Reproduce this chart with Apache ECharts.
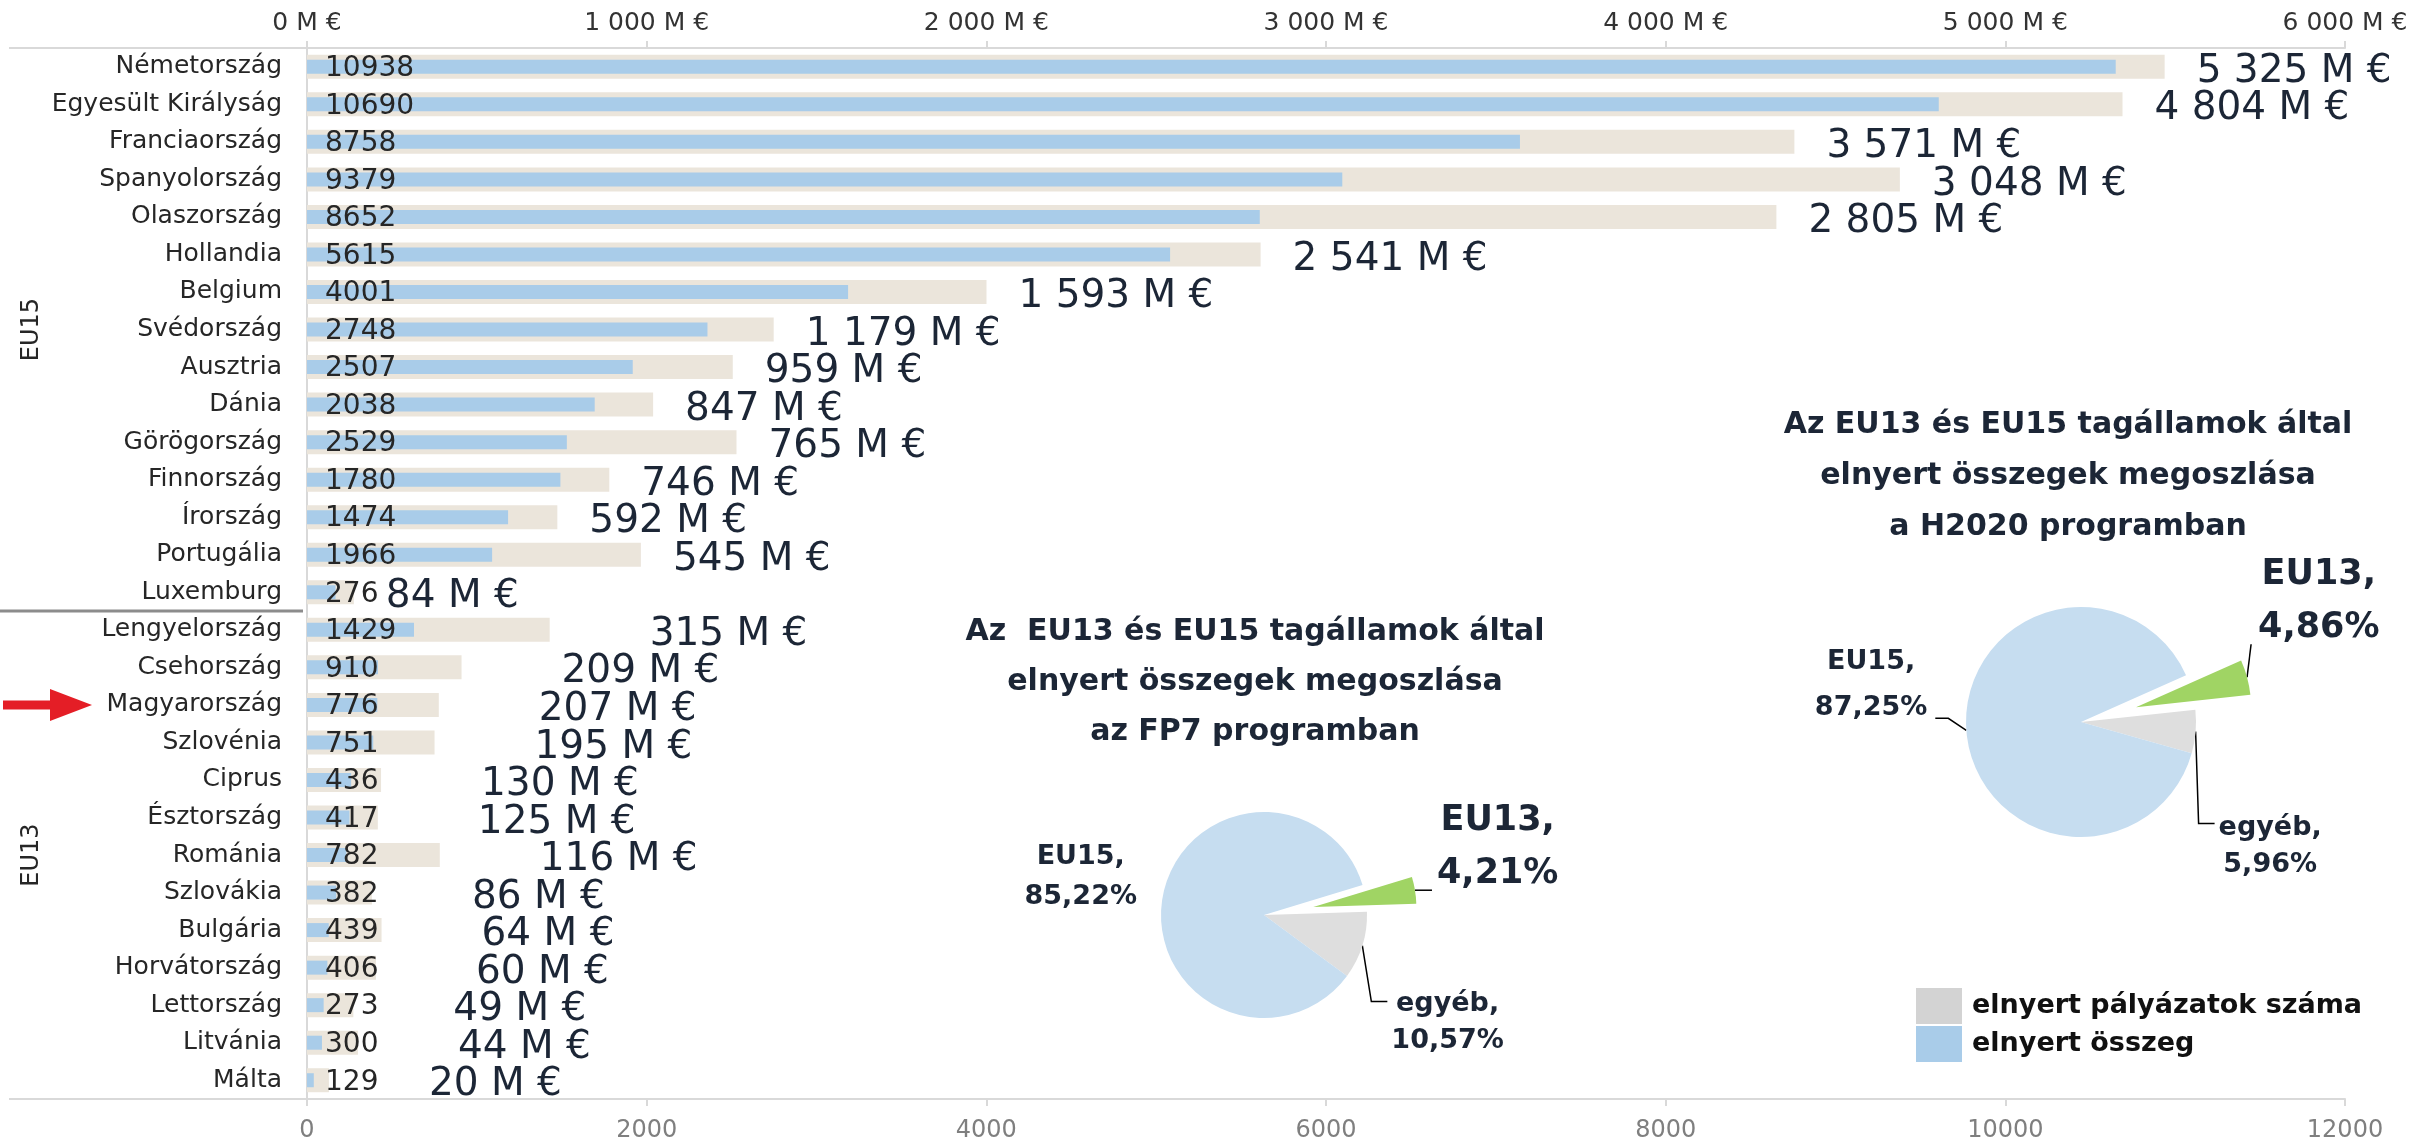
<!DOCTYPE html>
<html>
<head>
<meta charset="utf-8">
<script src="https://cdn.jsdelivr.net/npm/echarts@6/dist/echarts.min.js"></script>
<style>
html,body{margin:0;padding:0;background:#ffffff;}
#c{width:2411px;height:1147px;}
</style>
</head>
<body>
<div id="c"></div>
<script>
// ---------------- DATA ----------------
const countries = ['Németország','Egyesült Királyság','Franciaország','Spanyolország','Olaszország','Hollandia','Belgium','Svédország','Ausztria','Dánia','Görögország','Finnország','Írország','Portugália','Luxemburg','Lengyelország','Csehország','Magyarország','Szlovénia','Ciprus','Észtország','Románia','Szlovákia','Bulgária','Horvátország','Lettország','Litvánia','Málta'];
const groupNames = ['EU15','EU13'];
const groupSizes = [15, 13];
const wonProjects = [10938,10690,8758,9379,8652,5615,4001,2748,2507,2038,2529,1780,1474,1966,276,1429,910,776,751,436,417,782,382,439,406,273,300,129];
const wonAmount = [5325,4804,3571,3048,2805,2541,1593,1179,959,847,765,746,592,545,84,315,209,207,195,130,125,116,86,64,60,49,44,20];
const amountAxisTicks = [0,1000,2000,3000,4000,5000,6000];
const countAxisTicks = [0,2000,4000,6000,8000,10000,12000];
const pieNames = ['EU13','egyéb','EU15'];
const fp7Shares = [4.21,10.57,85.22];
const h2020Shares = [4.86,5.96,87.25];
const highlighted = 'Magyarország';
const seriesNames = ['elnyert pályázatok száma','elnyert összeg'];

// ---------------- STYLE ----------------
const FONT = '"DejaVu Sans", "Open Sans", sans-serif';
const GRID = {left:307, right:66, top:48, bottom:48};
const C = {
  beige:'#ebe5db', blue:'#a9cce9', axis:'#d9d9d9', text:'#262626', navy:'#1c2636',
  pieBlue:'#c6ddf0', pieGray:'#dedede', pieGreen:'#a0d464', legendGray:'#d3d3d3'
};

function thousands(n){ return String(n).replace(/\B(?=(\d{3})+(?!\d))/g, ' '); }
function amountText(n){ return thousands(n) + ' M €'; }
function pctText(v){ return v.toFixed(2).replace('.', ',') + '%'; }

const chart = echarts.init(document.getElementById('c'), null, {renderer:'canvas'});

// bars
const beigeData = wonProjects.map((v,i) => ({
  value: v,
  label: {distance: i < groupSizes[0] ? 32 : 100}
}));

// pies: main pie + exploded EU13 slice drawn as a second pie with shifted centre
function pieSeries(shares, center, radius, startAngle, explode, layouts, labelStyles, lineShow){
  const total = shares.reduce((a,b)=>a+b,0);
  const spans = shares.map(v => v/total*360);
  const starts = spans.map((s,i) => startAngle - spans.slice(0,i).reduce((a,b)=>a+b,0));
  const mids = spans.map((s,i) => (starts[i] - s/2) * Math.PI/180);
  const green = [center[0] + explode*Math.cos(mids[0]), center[1] - explode*Math.sin(mids[0])];
  const anchors = mids.map((m,i) => {
    const c = i === 0 ? green : center;
    return [c[0] + radius*Math.cos(m), c[1] - radius*Math.sin(m)];
  });
  const geom = {cx:center[0], cy:center[1], r:radius};
  const transparent = {color:'rgba(0,0,0,0)'};
  const colors = [C.pieGreen, C.pieGray, C.pieBlue];
  const layoutFn = p => {
    try {
      const f = layouts[p.dataIndex];
      return f ? f(p, anchors[p.dataIndex], geom) : {};
    } catch (e) { return {}; }
  };
  const base = {
    type:'pie', radius: radius, startAngle: startAngle, clockwise: true,
    avoidLabelOverlap: false, silent: true, animation: false,
    emphasis: {disabled: true},
    label: {show:true, position:'outside', fontFamily:FONT, fontWeight:'bold', color:C.navy,
            formatter: p => p.name + ',\n' + pctText(p.value)},
    labelLine: {show:true, length:10, length2:10, lineStyle:{color:'#000', width:1.5}},
    labelLayout: layoutFn
  };
  const main = Object.assign({}, base, {
    center: center,
    data: shares.map((v,i) => i === 0
      ? {name:pieNames[i], value:v, itemStyle:transparent, label:{show:false}, labelLine:{show:false}}
      : {name:pieNames[i], value:v, itemStyle:{color:colors[i]}, label:labelStyles[i], labelLine:{show:lineShow[i]}})
  });
  const exploded = Object.assign({}, base, {
    center: green,
    data: shares.map((v,i) => i === 0
      ? {name:pieNames[i], value:v, itemStyle:{color:colors[0]}, label:labelStyles[0], labelLine:{show:lineShow[0]}}
      : {name:pieNames[i], value:v, itemStyle:transparent, label:{show:false}, labelLine:{show:false}})
  });
  return [main, exploded];
}

function w(p){ return (p.labelRect && p.labelRect.width) ? p.labelRect.width : 100; }

const fp7Layouts = [
  (p,a) => ({x:a[0]+22+w(p)/2, y:a[1]-43, align:'center', verticalAlign:'middle',
             labelLinePoints:[[a[0],a[1]],[a[0]+17,a[1]]]}),
  (p,a) => ({x:a[0]+29+w(p)/2, y:a[1]+77, align:'center', verticalAlign:'middle',
             labelLinePoints:[[a[0],a[1]],[a[0]+9,a[1]+56],[a[0]+25,a[1]+56]]}),
  (p,a,g) => ({x:g.cx-g.r-24-w(p)/2, y:g.cy-38, align:'center', verticalAlign:'middle'})
];
const h2020Layouts = [
  (p,a) => ({x:a[0]+11+w(p)/2, y:a[1]-76, align:'center', verticalAlign:'middle',
             labelLinePoints:[[a[0],a[1]],[a[0]+4,a[1]-33]]}),
  (p,a) => ({x:a[0]+23+w(p)/2, y:a[1]+115, align:'center', verticalAlign:'middle',
             labelLinePoints:[[a[0],a[1]],[a[0]+3,a[1]+92],[a[0]+19,a[1]+92]]}),
  (p,a) => ({x:a[0]-39-w(p)/2, y:a[1]-45, align:'center', verticalAlign:'middle',
             labelLinePoints:[[a[0],a[1]],[a[0]-18,a[1]-12],[a[0]-31,a[1]-12]]})
];
const bigLbl = {fontSize:35, lineHeight:53};
const fp7Labels = [bigLbl, {fontSize:27, lineHeight:37}, {fontSize:27, lineHeight:40}];
const h2020Labels = [bigLbl, {fontSize:27, lineHeight:37}, {fontSize:27, lineHeight:46}];

const option = {
  animation: false,
  backgroundColor: '#ffffff',
  textStyle: {fontFamily: FONT},
  title: [
    {text:'Az  EU13 és EU15 tagállamok által\nelnyert összegek megoszlása\naz FP7 programban',
     left:1255, top:607, padding:0, textAlign:'center', textVerticalAlign:'top',
     textStyle:{fontFamily:FONT, fontSize:30, fontWeight:'bold', color:C.navy, lineHeight:50}},
    {text:'Az EU13 és EU15 tagállamok által\nelnyert összegek megoszlása\na H2020 programban',
     left:2068, top:400, padding:0, textAlign:'center', textVerticalAlign:'top',
     textStyle:{fontFamily:FONT, fontSize:30, fontWeight:'bold', color:C.navy, lineHeight:51}}
  ],
  legend: {
    orient:'vertical', left:1916, top:988, padding:0, itemWidth:46, itemHeight:36, itemGap:2,
    selectedMode:false, icon:'rect',
    textStyle:{fontFamily:FONT, fontSize:27, fontWeight:'bold', color:'#111111', padding:[0,0,0,5]},
    data:[{name:seriesNames[0], itemStyle:{color:C.legendGray}}, {name:seriesNames[1], itemStyle:{color:C.blue}}]
  },
  grid: {left:GRID.left, right:GRID.right, top:GRID.top, bottom:GRID.bottom, containLabel:false, outerBoundsMode:'none'},
  xAxis: [
    {type:'value', position:'top', min:amountAxisTicks[0], max:amountAxisTicks[amountAxisTicks.length-1],
     interval:amountAxisTicks[1]-amountAxisTicks[0],
     axisLine:{show:true, lineStyle:{color:C.axis, width:2}},
     axisTick:{show:true, length:7, lineStyle:{color:C.axis, width:2}},
     splitLine:{show:false},
     axisLabel:{margin:12, fontFamily:FONT, fontSize:25, color:'#333333', formatter: v => amountText(v)}},
    {type:'value', position:'bottom', min:countAxisTicks[0], max:countAxisTicks[countAxisTicks.length-1],
     interval:countAxisTicks[1]-countAxisTicks[0],
     axisLine:{show:true, lineStyle:{color:C.axis, width:2}},
     axisTick:{show:true, length:7, lineStyle:{color:C.axis, width:2}},
     splitLine:{show:false},
     axisLabel:{margin:20, fontFamily:FONT, fontSize:24, color:'#7f7f7f', formatter: v => String(v)}}
  ],
  yAxis: [
    {type:'category', data:countries, inverse:true,
     axisLine:{show:true, lineStyle:{color:C.axis, width:2}},
     axisTick:{show:false},
     axisLabel:{margin:25, fontFamily:FONT, fontSize:25, color:C.text}},
    {type:'category', data:countries, inverse:true, show:false}
  ],
  series: [
    {name:seriesNames[0], type:'bar', xAxisIndex:1, yAxisIndex:0, barWidth:24,
     itemStyle:{color:C.beige}, data:beigeData, silent:true,
     label:{show:true, position:'right', offset:[0,5], fontFamily:FONT, fontSize:39, color:C.navy,
            formatter: p => amountText(wonAmount[p.dataIndex])}},
    {name:seriesNames[1], type:'bar', xAxisIndex:0, yAxisIndex:1, barWidth:14, zlevel:1, z:3,
     itemStyle:{color:C.blue}, data:wonAmount, silent:true,
     label:{show:true, position:'insideLeft', distance:18, offset:[0,2], fontFamily:FONT, fontSize:28, color:C.text,
            textBorderWidth:0, formatter: p => String(wonProjects[p.dataIndex])}}
  ].concat(
    pieSeries(fp7Shares, [1264,915], 103, 16.9, 50, fp7Layouts, fp7Labels, [true,true,false]),
    pieSeries(h2020Shares, [2081,722], 115, 24, 57, h2020Layouts, h2020Labels, [true,true,true])
  )
};
try { chart.setOption(option); } catch (e) { console.error(e); }

// decorations positioned from the category scale
const yOf = name => chart.convertToPixel({yAxisIndex:0}, name);
const lastEU15 = groupSizes[0]-1;
const sepY = (yOf(countries[lastEU15]) + yOf(countries[lastEU15+1]))/2;
const mid15 = (yOf(countries[0]) + yOf(countries[lastEU15]))/2;
const mid13 = (yOf(countries[lastEU15+1]) + yOf(countries[countries.length-1]))/2;
const ay = yOf(highlighted);
const plotBottom = 1147 - GRID.bottom;
chart.setOption({
  graphic: [
    {type:'line', shape:{x1:9, y1:GRID.top, x2:GRID.left, y2:GRID.top}, style:{stroke:C.axis, lineWidth:2}, silent:true},
    {type:'line', shape:{x1:9, y1:plotBottom, x2:GRID.left, y2:plotBottom}, style:{stroke:C.axis, lineWidth:2}, silent:true},
    {type:'line', shape:{x1:0, y1:sepY, x2:303, y2:sepY}, style:{stroke:'#8c8c8c', lineWidth:3}, silent:true},
    {type:'text', x:32, y:mid15, rotation:Math.PI/2, silent:true,
     style:{text:groupNames[0], fontFamily:FONT, fontSize:24, fill:C.text, align:'center', verticalAlign:'middle'}},
    {type:'text', x:32, y:mid13, rotation:Math.PI/2, silent:true,
     style:{text:groupNames[1], fontFamily:FONT, fontSize:24, fill:C.text, align:'center', verticalAlign:'middle'}},
    {type:'polygon', silent:true,
     shape:{points:[[3,ay-4.5],[50,ay-4.5],[50,ay-16],[92,ay],[50,ay+16],[50,ay+4.5],[3,ay+4.5]]},
     style:{fill:'#e41e26'}}
  ]
});
</script>
</body>
</html>
